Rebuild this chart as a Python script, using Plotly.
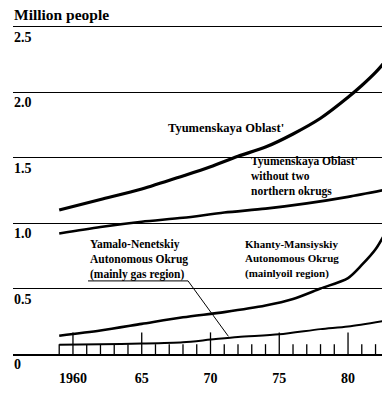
import plotly.graph_objects as go

# ---- data ----
years_tyum = [1959, 1962, 1965, 1968, 1970, 1972, 1974, 1976, 1978, 1980, 1981, 1982, 1983]
tyumen_total = [1.10, 1.18, 1.26, 1.36, 1.43, 1.51, 1.58, 1.68, 1.80, 1.96, 2.05, 2.15, 2.27]

years_south = [1959, 1962, 1965, 1968, 1971, 1974, 1977, 1980, 1983]
tyumen_south = [0.92, 0.97, 1.01, 1.04, 1.08, 1.11, 1.15, 1.20, 1.26]

years_khanty = [1959, 1962, 1965, 1968, 1971, 1974, 1976, 1978, 1980, 1981, 1982, 1983]
khanty = [0.14, 0.18, 0.23, 0.28, 0.32, 0.37, 0.42, 0.50, 0.58, 0.68, 0.80, 0.98]

years_yamal = [1959, 1962, 1965, 1968, 1970, 1972, 1975, 1978, 1980, 1983]
yamal = [0.07, 0.075, 0.08, 0.09, 0.11, 0.13, 0.15, 0.19, 0.21, 0.26]

y_ticks = [0, 0.5, 1.0, 1.5, 2.0, 2.5]
y_ticklabels = ["0", "0.5", "1.0", "1.5", "2.0", "2.5"]
x_ticks = [1960, 1965, 1970, 1975, 1980]
x_ticklabels = ["1960", "65", "70", "75", "80"]
tick_years = list(range(1959, 1983))

SERIF = "Liberation Serif"
X0, X1 = 1955.64, 1982.47
Y0, Y1 = 0, 2.52

fig = go.Figure()

# axis tick marks drawn upward from the baseline (minor each year, major every 5)
tx, ty = [], []
for yr in tick_years:
    h = 0.165 if yr in x_ticks else 0.075
    tx += [yr, yr, None]
    ty += [0, h, None]
fig.add_trace(go.Scatter(x=tx, y=ty, mode="lines", line=dict(color="black", width=1.3),
                         hoverinfo="skip", showlegend=False))

for xs, ys, w in [(years_tyum, tyumen_total, 3.2), (years_south, tyumen_south, 2.6),
                  (years_khanty, khanty, 2.6), (years_yamal, yamal, 2.0)]:
    fig.add_trace(go.Scatter(x=xs, y=ys, mode="lines",
                             line=dict(color="black", width=w, shape="spline", smoothing=0.8),
                             showlegend=False))


def xd(px):
    return X0 + (px - 13) / 13.75


def yd(py):
    return (354 - py) / 130.8


ann = []
for v, t in zip(y_ticks, y_ticklabels):
    ann.append(dict(x=0, xref="paper", y=v, yref="y", text=t, showarrow=False,
                    xanchor="left", yanchor="top", yshift=-1, xshift=-1,
                    font=dict(family=SERIF, size=14, color="black", weight="bold")))
ann.append(dict(x=0, xref="paper", y=(354 - 15) / 330, yref="paper", text="Million people",
                showarrow=False, xanchor="left", yanchor="middle", xshift=-1,
                font=dict(family=SERIF, size=15.5, color="black", weight="bold")))

lab_font = dict(family=SERIF, size=11.5, color="black", weight="bold")
labels = [
    (166, 128, "Tyumenskaya Oblast'", 12.5),
    (249, 177, "Tyumenskaya Oblast'<br>without two<br>northern okrugs", 11.5),
    (88, 260, "Yamalo-Nenetskiy<br>Autonomous Okrug<br>(mainly gas region)", 11.5),
    (243, 259, "Khanty-Mansiyskiy<br>Autonomous Okrug<br>(mainlyoil region)", 11),
]
for px, py, t, fs in labels:
    ann.append(dict(x=xd(px), y=yd(py), text=t, showarrow=False, xanchor="left",
                    yanchor="middle", align="left",
                    font=dict(family=SERIF, size=fs, color="black", weight="bold")))

shapes = [dict(type="path",
               path=f"M {xd(88)},{yd(281)} L {xd(188)},{yd(281)} L 1971.3,0.135",
               line=dict(color="black", width=1))]

fig.update_layout(
    width=382, height=415,
    margin=dict(l=13, r=0, t=24, b=61),
    paper_bgcolor="white", plot_bgcolor="white",
    annotations=ann, shapes=shapes,
    xaxis=dict(range=[X0, X1], tickvals=x_ticks, ticktext=x_ticklabels, ticks="",
               showgrid=False, zeroline=False, showline=True, linecolor="black", linewidth=2,
               ticklabelstandoff=10,
               tickfont=dict(family=SERIF, size=14, color="black", weight="bold")),
    yaxis=dict(range=[Y0, Y1], tickvals=y_ticks, showticklabels=False, ticks="",
               showgrid=True, gridcolor="black", gridwidth=1, zeroline=False, showline=False),
)

fig.write_html("out.html", config={"displayModeBar": False},
               post_script="document.body.style.margin='0';document.body.style.padding='0';")
